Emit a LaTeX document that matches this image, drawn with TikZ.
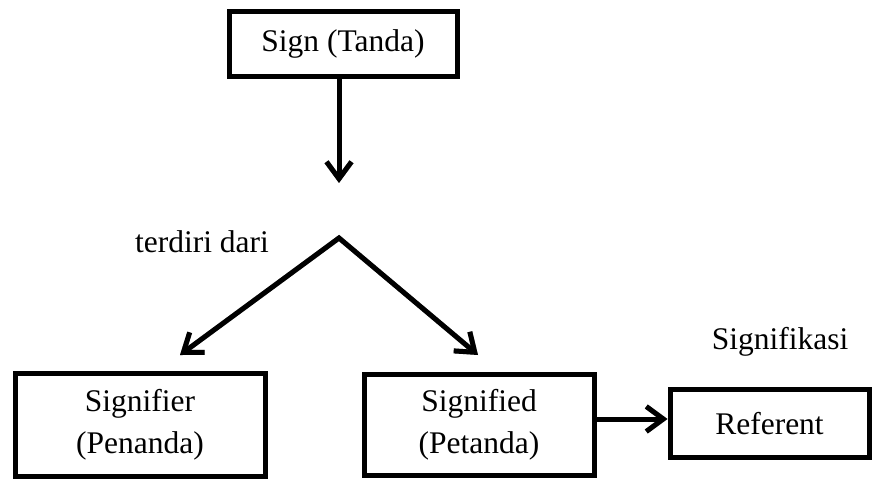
\documentclass[tikz,border=0pt]{standalone}
\usepackage{fontspec}
\setmainfont{Liberation Serif}
\usetikzlibrary{arrows.meta}
\tikzset{
  box/.style={draw=black, line width=5pt, fill=white, inner sep=0pt, align=center,
    font=\fontsize{31.5}{42}\selectfont},
  lbl/.style={inner sep=0pt, anchor=base, font=\fontsize{31.5}{42}\selectfont},
  barb/.tip={Straight Barb[length=17pt,width=25pt,line width=5pt]},
  arr/.style={line width=5pt, -barb},
  darr/.style={line width=5pt, barb-barb, line join=miter},
  shade/.style={draw=black!35, shift={(1.8pt,-1.8pt)}}
}
\begin{document}
\begin{tikzpicture}[x=1pt,y=-1pt]
\useasboundingbox (0,0) rectangle (873,481);
\node[box, minimum width=228pt, minimum height=65pt] (sign) at (343,44) {Sign (Tanda)};
\node[box, minimum width=250pt, minimum height=103pt] (signifier) at (140,425) {Signifier\\(Penanda)};
\node[box, minimum width=230pt, minimum height=101pt] (signified) at (479,425) {Signified\\(Petanda)};
\node[box, minimum width=199pt, minimum height=68pt] (referent) at (769.5,423.5) {Referent};
\node[lbl] (terdiri) at (202,252) {terdiri dari};
\node[lbl] (signifikasi) at (780,349) {Signifikasi};
\coordinate (vtip) at (339,183);
\coordinate (apex) at (339,238);
\coordinate (ltip) at (180,355);
\coordinate (rtip) at (478,355);
\draw[arr, shade] (vtip |- sign.south) -- (vtip);
\draw[darr, shade] (ltip) -- (apex) -- (rtip);
\draw[arr, shade] ([yshift=6pt]signified.east) -- ([yshift=6pt]signified.east -| referent.west);
\draw[arr] (vtip |- sign.south) -- (vtip);
\draw[darr] (ltip) -- (apex) -- (rtip);
\draw[arr] ([yshift=6pt]signified.east) -- ([yshift=6pt]signified.east -| referent.west);
\end{tikzpicture}
\end{document}
